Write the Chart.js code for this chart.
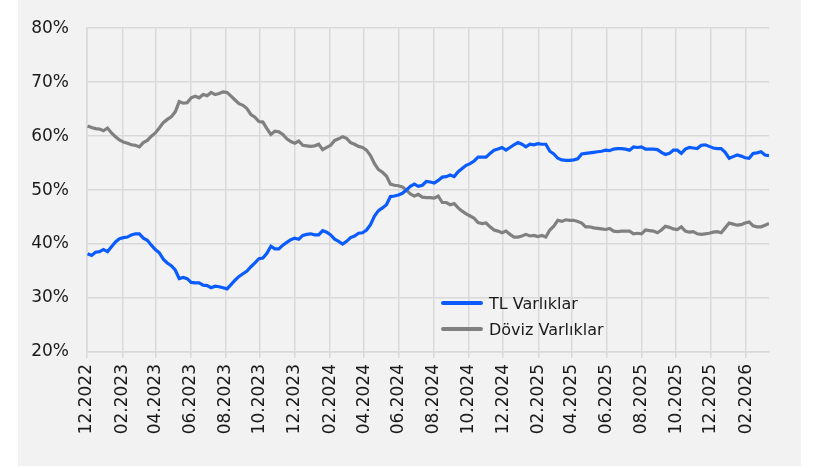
<!DOCTYPE html>
<html><head><meta charset="utf-8">
<script src="https://cdn.jsdelivr.net/npm/chart.js@4.4.1/dist/chart.umd.min.js"></script>
<style>
html,body{margin:0;padding:0;background:#fff;width:820px;height:468px;overflow:hidden}
#bg{position:absolute;left:18px;top:0;width:783px;height:466px;background:#f2f2f2}
#wrap{position:absolute;left:0;top:0;width:820px;height:468px}
#legend{position:absolute;left:441px;top:290px;font-family:"DejaVu Sans",sans-serif;font-size:16px;color:#1a1a1a}
.item{display:flex;align-items:center;height:26px;white-space:nowrap}
.sw{width:42px;height:4px;border-radius:2px;margin-right:6px}
</style></head>
<body>
<div id="bg"></div>
<div id="wrap"><canvas id="c" width="820" height="468"></canvas></div>
<div id="legend"></div>
<script>
// Weekly observations starting from this date
const startDate = '2022-12-02';
const seriesNames = ['TL Varlıklar', 'Döviz Varlıklar'];
const tlValues = [
38.2,37.9,38.5,38.6,39.0,38.6,39.5,40.4,41.0,41.2,41.3,41.7,41.9,41.9,41.1,40.7,39.8,39.0,38.4,37.2,
36.5,36.0,35.2,33.6,33.8,33.6,32.9,32.8,32.8,32.4,32.3,31.9,32.2,32.1,31.9,31.7,32.5,33.3,34.0,34.5,
35.0,35.8,36.5,37.3,37.4,38.3,39.6,39.1,39.1,39.8,40.3,40.8,41.1,40.9,41.6,41.8,41.9,41.7,41.7,42.5,
42.2,41.7,40.9,40.5,40.0,40.5,41.2,41.5,42.0,42.1,42.6,43.6,45.2,46.2,46.7,47.3,48.8,48.9,49.1,49.4,
50.0,50.7,51.1,50.7,50.9,51.6,51.5,51.3,51.8,52.4,52.5,52.8,52.5,53.4,54.0,54.6,54.9,55.4,56.1,56.1,
56.1,56.8,57.4,57.6,57.9,57.4,57.9,58.4,58.8,58.5,58.0,58.5,58.4,58.6,58.5,58.5,57.2,56.7,55.9,55.6,
55.5,55.5,55.6,55.8,56.7,56.8,56.9,57.0,57.1,57.2,57.4,57.3,57.6,57.7,57.7,57.6,57.4,58.0,57.9,58.0,
57.6,57.6,57.6,57.5,57.0,56.6,56.8,57.4,57.4,56.8,57.6,57.9,57.8,57.7,58.3,58.4,58.1,57.8,57.7,57.7,
57.0,55.9,56.2,56.5,56.3,56.0,55.9,56.8,56.9,57.1,56.5,56.4
];
const fxValues = [
61.9,61.6,61.4,61.3,61.0,61.5,60.6,59.9,59.3,58.9,58.7,58.4,58.3,58.0,58.8,59.2,60.0,60.6,61.5,62.5,
63.1,63.6,64.5,66.4,66.1,66.2,67.1,67.4,67.1,67.7,67.5,68.1,67.7,67.9,68.2,68.1,67.4,66.7,66.0,65.7,
65.1,64.0,63.5,62.7,62.6,61.4,60.3,60.9,60.8,60.3,59.5,59.0,58.7,59.1,58.3,58.2,58.1,58.2,58.5,57.5,
57.9,58.3,59.2,59.5,59.9,59.6,58.8,58.5,58.1,57.9,57.4,56.4,54.9,53.8,53.3,52.6,51.1,50.9,50.8,50.6,
50.0,49.3,48.9,49.2,48.7,48.6,48.6,48.5,48.9,47.7,47.7,47.3,47.5,46.7,46.1,45.6,45.2,44.8,44.0,43.8,
43.9,43.2,42.6,42.4,42.1,42.4,41.8,41.3,41.3,41.5,41.8,41.5,41.6,41.4,41.6,41.3,42.6,43.3,44.4,44.2,
44.5,44.4,44.4,44.2,43.9,43.2,43.2,43.0,42.9,42.8,42.7,42.9,42.4,42.3,42.4,42.4,42.4,41.9,42.0,41.9,
42.6,42.5,42.4,42.1,42.6,43.3,43.1,42.8,42.7,43.2,42.4,42.2,42.3,41.9,41.8,41.9,42.0,42.2,42.3,42.1,
43.0,43.9,43.7,43.5,43.6,43.9,44.1,43.4,43.2,43.2,43.5,43.8
];
const tickLabels = ['12.2022','02.2023','04.2023','06.2023','08.2023','10.2023','12.2023','02.2024',
'04.2024','06.2024','08.2024','10.2024','12.2024','02.2025','04.2025','06.2025','08.2025','10.2025',
'12.2025','02.2026'];
const yTicks = [20,30,40,50,60,70,80];
const colors = ['#0a5cff', '#808080'];

const DAY = 86400000;
const t0 = Date.parse(startDate + 'T00:00:00Z');
const dates = tlValues.map((_, i) => t0 + i * 7 * DAY);
const tickValues = tickLabels.map(s => { const [m, y] = s.split('.').map(Number); return Date.UTC(y, m - 1, 1); });
const toXY = arr => arr.map((v, i) => ({x: dates[i], y: v}));

const FONT = '"DejaVu Sans", sans-serif';
const chart = new Chart(document.getElementById('c'), {
  type: 'line',
  data: {
    datasets: [
      {label: seriesNames[0], data: toXY(tlValues), borderColor: colors[0], backgroundColor: colors[0], borderWidth: 3.2, pointRadius: 0, tension: 0},
      {label: seriesNames[1], data: toXY(fxValues), borderColor: colors[1], backgroundColor: colors[1], borderWidth: 3.2, pointRadius: 0, tension: 0}
    ]
  },
  options: {
    responsive: false, animation: false, devicePixelRatio: 1,
    layout: {padding: {top: 22, right: 51, left: 0, bottom: 0}},
    plugins: {legend: {display: false}, tooltip: {enabled: false}},
    scales: {
      x: {
        type: 'linear', min: tickValues[0], max: dates[dates.length - 1],
        afterBuildTicks: s => { s.ticks = tickValues.map(v => ({value: v})); },
        afterFit: s => { s.height = 116; },
        ticks: {
          autoSkip: false, minRotation: 90, maxRotation: 90, padding: 6,
          color: '#1a1a1a', font: {family: FONT, size: 17},
          callback: v => { const k = tickValues.indexOf(v); return k >= 0 ? tickLabels[k] : ''; }
        },
        grid: {color: '#d9d9d9', lineWidth: 1.5, tickLength: 6, drawTicks: true},
        border: {color: '#d9d9d9', width: 1.5}
      },
      y: {
        min: 20, max: 80,
        afterBuildTicks: s => { s.ticks = yTicks.map(v => ({value: v})); },
        afterFit: s => { s.width = 87; },
        ticks: {padding: 18, color: '#1a1a1a', font: {family: FONT, size: 17}, callback: v => v + '%'},
        grid: {color: '#d9d9d9', lineWidth: 1.5, drawTicks: false},
        border: {color: '#d9d9d9', width: 1.5}
      }
    }
  }
});

const lg = document.getElementById('legend');
seriesNames.forEach((n, i) => {
  const d = document.createElement('div'); d.className = 'item';
  const sw = document.createElement('span'); sw.className = 'sw'; sw.style.background = colors[i];
  const tx = document.createElement('span'); tx.textContent = n;
  d.appendChild(sw); d.appendChild(tx); lg.appendChild(d);
});
</script>
</body></html>
